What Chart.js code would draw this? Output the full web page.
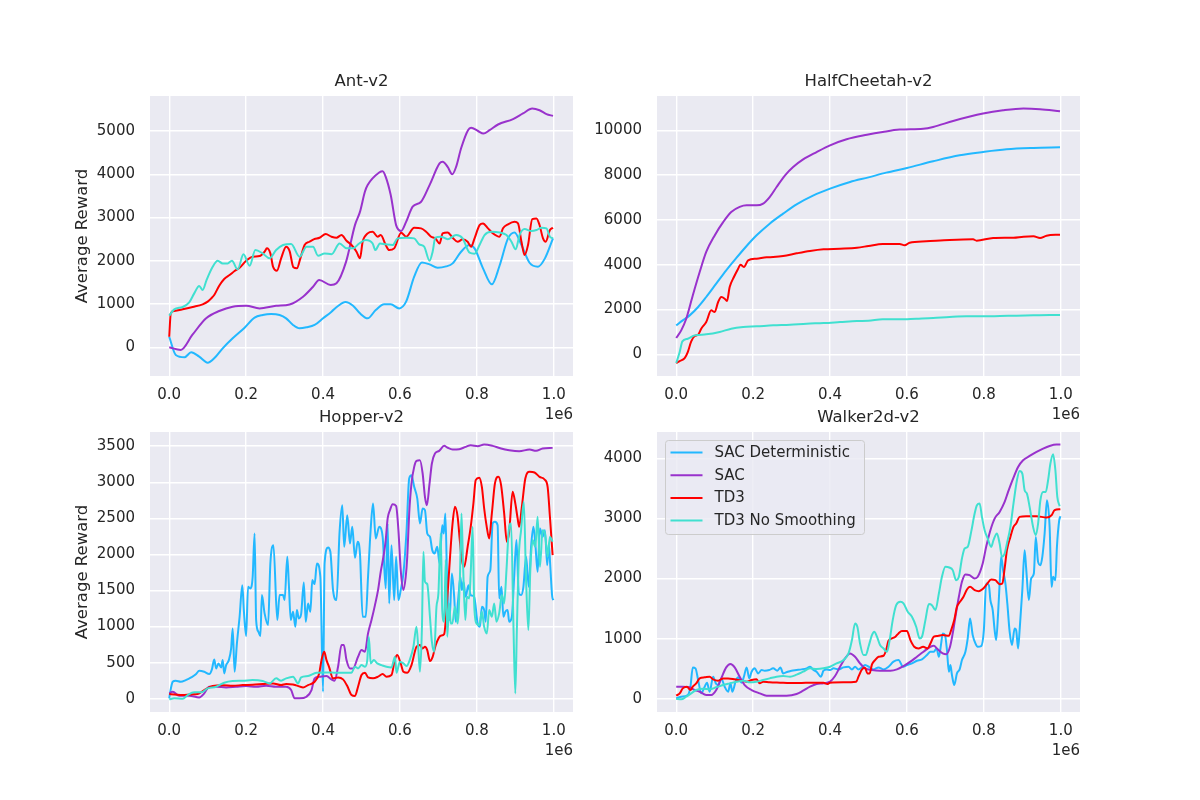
<!DOCTYPE html>
<html>
<head>
<meta charset="utf-8">
<title>TD3 / SAC benchmark</title>
<script src="https://cdn.jsdelivr.net/npm/chart.js@4.4.1/dist/chart.umd.min.js"></script>
<style>
  body { margin: 0; background: #ffffff; }
  #page { position: relative; width: 1200px; height: 800px; overflow: hidden; }
  #page canvas { position: absolute; }
</style>
</head>
<body>
<div id="page">
  <canvas id="ant" width="563" height="380" style="left:40px;top:51px"></canvas>
  <canvas id="cheetah" width="563" height="380" style="left:547px;top:51px"></canvas>
  <canvas id="hopper" width="563" height="380" style="left:40px;top:387px"></canvas>
  <canvas id="walker" width="563" height="380" style="left:547px;top:387px"></canvas>
</div>
<script>
// timesteps are in millions (axis offset label "1e6")
const seriesNames = ['SAC Deterministic', 'SAC', 'TD3', 'TD3 No Smoothing'];
const seriesColors = ['#22b8ff', '#9932cc', '#ff0000', '#40e0d0'];
const xTicks = [0, 0.2, 0.4, 0.6, 0.8, 1.0];

// ---- Ant-v2
const antYTicks = [0, 1000, 2000, 3000, 4000, 5000];
const antSacDetX = [0, 0.017, 0.04, 0.057, 0.078, 0.1, 0.117, 0.139, 0.165, 0.196, 0.222, 0.243, 0.265, 0.287, 0.304, 0.322, 0.339, 0.357, 0.378, 0.4, 0.422, 0.439, 0.458, 0.478, 0.496, 0.516, 0.537, 0.559, 0.576, 0.598, 0.616, 0.637, 0.657, 0.677, 0.698, 0.72, 0.737, 0.759, 0.781, 0.794, 0.816, 0.839, 0.859, 0.881, 0.898, 0.916, 0.937, 0.959, 0.977, 0.998];
const antSacDetY = [245, -177, -230, -115, -215, -354, -254, -23, 208, 454, 685, 747, 770, 747, 670, 516, 439, 462, 516, 670, 824, 955, 1047, 962, 785, 670, 862, 993, 993, 900, 1055, 1632, 1963, 1917, 1840, 1870, 1940, 2210, 2364, 2287, 1825, 1455, 1886, 2518, 2656, 2364, 1955, 1863, 2056, 2518];
const antSacX = [0, 0.03, 0.06, 0.096, 0.13, 0.165, 0.2, 0.235, 0.278, 0.313, 0.348, 0.374, 0.39, 0.42, 0.435, 0.46, 0.483, 0.496, 0.509, 0.516, 0.546, 0.555, 0.563, 0.576, 0.59, 0.603, 0.616, 0.633, 0.655, 0.677, 0.703, 0.711, 0.724, 0.736, 0.746, 0.759, 0.777, 0.785, 0.803, 0.817, 0.833, 0.855, 0.894, 0.92, 0.944, 0.963, 0.981, 0.998];
const antSacY = [0, -60, 285, 670, 840, 940, 960, 900, 960, 990, 1170, 1400, 1555, 1440, 1480, 1980, 2825, 3130, 3600, 3750, 4040, 4070, 3940, 3520, 2825, 2690, 2900, 3250, 3365, 3750, 4250, 4290, 4170, 4000, 4170, 4600, 5020, 5075, 5000, 4940, 5020, 5150, 5275, 5405, 5520, 5480, 5390, 5350];
const antTd3X = [0, 0.004, 0.013, 0.035, 0.061, 0.087, 0.1, 0.109, 0.117, 0.13, 0.143, 0.157, 0.17, 0.183, 0.2, 0.217, 0.235, 0.248, 0.254, 0.263, 0.27, 0.28, 0.291, 0.304, 0.313, 0.323, 0.332, 0.341, 0.352, 0.365, 0.377, 0.391, 0.407, 0.422, 0.435, 0.448, 0.461, 0.474, 0.487, 0.496, 0.503, 0.516, 0.529, 0.542, 0.55, 0.563, 0.572, 0.585, 0.603, 0.616, 0.637, 0.655, 0.668, 0.681, 0.692, 0.703, 0.711, 0.724, 0.737, 0.75, 0.763, 0.776, 0.785, 0.794, 0.807, 0.816, 0.829, 0.842, 0.859, 0.868, 0.881, 0.898, 0.907, 0.916, 0.924, 0.933, 0.944, 0.955, 0.963, 0.972, 0.979, 0.99, 0.998];
const antTd3Y = [245, 785, 840, 878, 932, 993, 1055, 1130, 1210, 1425, 1580, 1670, 1763, 1840, 2000, 2094, 2110, 2210, 2287, 2171, 1863, 1770, 2056, 2325, 2225, 1848, 1825, 2056, 2364, 2440, 2500, 2533, 2618, 2556, 2533, 2595, 2464, 2364, 2210, 2056, 2440, 2633, 2672, 2556, 2595, 2364, 2248, 2287, 2649, 2556, 2764, 2750, 2672, 2556, 2518, 2400, 2633, 2656, 2533, 2440, 2495, 2440, 2325, 2518, 2826, 2864, 2750, 2633, 2556, 2750, 2842, 2900, 2864, 2440, 2133, 2364, 2965, 2980, 2826, 2518, 2440, 2710, 2764];
const antTd3nsX = [0, 0.013, 0.035, 0.052, 0.065, 0.078, 0.087, 0.097, 0.113, 0.126, 0.139, 0.152, 0.163, 0.178, 0.193, 0.209, 0.224, 0.243, 0.261, 0.278, 0.296, 0.317, 0.339, 0.357, 0.374, 0.387, 0.404, 0.422, 0.443, 0.461, 0.478, 0.494, 0.511, 0.529, 0.536, 0.548, 0.563, 0.581, 0.594, 0.616, 0.637, 0.65, 0.663, 0.677, 0.685, 0.692, 0.707, 0.724, 0.746, 0.763, 0.781, 0.794, 0.807, 0.82, 0.837, 0.859, 0.877, 0.89, 0.901, 0.911, 0.924, 0.942, 0.955, 0.968, 0.981, 0.99, 0.998];
const antTd3nsY = [731, 878, 932, 1040, 1247, 1417, 1324, 1555, 1863, 2000, 1940, 1940, 2000, 1800, 2150, 1886, 2248, 2171, 2056, 2248, 2364, 2387, 2094, 2325, 2325, 2117, 2171, 2150, 2400, 2287, 2287, 2400, 2480, 2400, 2248, 2400, 2380, 2364, 2518, 2533, 2518, 2380, 2325, 2000, 2210, 2533, 2556, 2500, 2595, 2518, 2187, 2164, 2364, 2595, 2672, 2656, 2595, 2440, 2264, 2595, 2733, 2687, 2710, 2764, 2750, 2556, 2518];

// ---- HalfCheetah-v2
const cheetahYTicks = [0, 2000, 4000, 6000, 8000, 10000];
const cheetahSacDetX = [0, 0.017, 0.035, 0.057, 0.078, 0.104, 0.13, 0.157, 0.183, 0.209, 0.243, 0.278, 0.313, 0.357, 0.4, 0.452, 0.5, 0.546, 0.6, 0.668, 0.737, 0.798, 0.859, 0.929, 0.998];
const cheetahSacDetY = [1295, 1518, 1740, 2113, 2560, 3155, 3750, 4315, 4836, 5312, 5833, 6280, 6696, 7098, 7395, 7693, 7900, 8110, 8318, 8616, 8883, 9032, 9151, 9211, 9240];
const cheetahSacX = [0, 0.013, 0.026, 0.043, 0.061, 0.078, 0.1, 0.122, 0.143, 0.165, 0.183, 0.209, 0.226, 0.243, 0.261, 0.283, 0.304, 0.33, 0.365, 0.4, 0.443, 0.496, 0.537, 0.581, 0.642, 0.668, 0.72, 0.798, 0.85, 0.903, 0.946, 0.998];
const cheetahSacY = [730, 1070, 1590, 2630, 3675, 4570, 5310, 5900, 6350, 6580, 6650, 6650, 6725, 7020, 7470, 7990, 8360, 8700, 9030, 9330, 9600, 9800, 9925, 10030, 10070, 10150, 10415, 10745, 10890, 10970, 10940, 10850];
const cheetahTd3X = [0, 0.009, 0.022, 0.03, 0.039, 0.048, 0.057, 0.065, 0.078, 0.091, 0.1, 0.109, 0.117, 0.126, 0.132, 0.139, 0.15, 0.161, 0.167, 0.176, 0.187, 0.209, 0.235, 0.252, 0.278, 0.313, 0.348, 0.383, 0.426, 0.47, 0.5, 0.537, 0.581, 0.594, 0.607, 0.65, 0.711, 0.772, 0.781, 0.824, 0.877, 0.903, 0.929, 0.946, 0.963, 0.998];
const cheetahTd3Y = [-387, -298, -164, 104, 580, 818, 878, 1146, 1443, 1964, 1890, 2336, 2560, 2485, 2380, 3006, 3452, 3824, 4003, 3900, 4196, 4270, 4330, 4345, 4390, 4508, 4613, 4687, 4717, 4761, 4836, 4925, 4925, 4866, 4985, 5044, 5104, 5134, 5074, 5193, 5208, 5253, 5268, 5193, 5297, 5342];
const cheetahTd3nsX = [0, 0.009, 0.016, 0.03, 0.048, 0.078, 0.113, 0.143, 0.174, 0.209, 0.252, 0.296, 0.339, 0.383, 0.426, 0.47, 0.5, 0.537, 0.581, 0.624, 0.668, 0.711, 0.755, 0.798, 0.842, 0.885, 0.929, 0.972, 0.998];
const cheetahTd3nsY = [-387, 104, 580, 700, 848, 893, 997, 1146, 1220, 1250, 1295, 1324, 1369, 1399, 1443, 1488, 1500, 1562, 1562, 1592, 1622, 1667, 1696, 1696, 1711, 1726, 1741, 1756, 1756];

// ---- Hopper-v2
const hopperYTicks = [0, 500, 1000, 1500, 2000, 2500, 3000, 3500];
const hopperSacDetX = [0, 0.002, 0.009, 0.017, 0.03, 0.043, 0.057, 0.07, 0.078, 0.091, 0.104, 0.111, 0.117, 0.122, 0.128, 0.135, 0.139, 0.143, 0.148, 0.155, 0.161, 0.165, 0.17, 0.176, 0.183, 0.19, 0.194, 0.2, 0.205, 0.211, 0.217, 0.222, 0.226, 0.232, 0.237, 0.241, 0.248, 0.257, 0.263, 0.271, 0.281, 0.287, 0.296, 0.3, 0.307, 0.311, 0.316, 0.322, 0.328, 0.332, 0.337, 0.343, 0.35, 0.355, 0.361, 0.367, 0.372, 0.378, 0.384, 0.393, 0.4, 0.404, 0.413, 0.419, 0.426, 0.435, 0.443, 0.45, 0.455, 0.463, 0.47, 0.476, 0.483, 0.49, 0.496, 0.503, 0.511, 0.517, 0.524, 0.53, 0.537, 0.546, 0.555, 0.563, 0.568, 0.572, 0.578, 0.585, 0.59, 0.596, 0.602, 0.609, 0.617, 0.624, 0.63, 0.637, 0.645, 0.652, 0.659, 0.665, 0.671, 0.678, 0.684, 0.69, 0.697, 0.703, 0.71, 0.714, 0.718, 0.723, 0.729, 0.735, 0.741, 0.745, 0.752, 0.757, 0.761, 0.765, 0.771, 0.778, 0.784, 0.793, 0.802, 0.808, 0.813, 0.819, 0.823, 0.828, 0.835, 0.841, 0.847, 0.854, 0.858, 0.864, 0.869, 0.874, 0.88, 0.884, 0.891, 0.897, 0.903, 0.909, 0.915, 0.921, 0.928, 0.935, 0.941, 0.947, 0.952, 0.958, 0.964, 0.971, 0.977, 0.983, 0.987, 0.991, 0.996, 0.999];
const hopperSacDetY = [5, 74, 235, 250, 235, 258, 295, 342, 388, 374, 342, 406, 545, 420, 489, 434, 535, 351, 466, 535, 697, 974, 374, 766, 1136, 1574, 1228, 868, 1551, 1528, 1690, 2290, 1090, 928, 868, 1436, 1182, 1020, 1874, 2128, 1090, 1436, 1436, 1367, 1967, 1597, 1090, 1205, 997, 1228, 1113, 1173, 1611, 1067, 1320, 1205, 1644, 1588, 1874, 1690, 97, 1874, 2096, 2036, 1505, 1367, 2313, 2682, 2105, 2543, 2151, 2382, 1953, 2175, 2013, 1136, 1136, 1690, 2359, 2705, 2221, 2382, 2244, 1528, 2429, 1320, 2128, 1367, 1967, 1367, 1505, 1736, 2313, 3052, 3098, 2936, 2775, 2429, 2636, 2613, 2290, 2244, 2059, 2013, 2105, 1874, 2405, 2290, 2567, 1551, 1090, 1736, 1413, 1067, 1413, 1690, 1505, 1621, 1413, 1574, 1436, 1413, 1043, 997, 1274, 1228, 1067, 1690, 1782, 2429, 2452, 2405, 1390, 1551, 1136, 1205, 1228, 1067, 1136, 1690, 2198, 1459, 1436, 1551, 1967, 1551, 2105, 2382, 2151, 1759, 2359, 2244, 2336, 1851, 2151, 1828, 1413, 1367];
const hopperSacX = [0, 0.009, 0.026, 0.052, 0.078, 0.091, 0.104, 0.122, 0.148, 0.174, 0.2, 0.226, 0.252, 0.278, 0.304, 0.317, 0.326, 0.339, 0.357, 0.37, 0.378, 0.391, 0.409, 0.422, 0.43, 0.439, 0.448, 0.454, 0.461, 0.47, 0.478, 0.491, 0.5, 0.509, 0.517, 0.526, 0.535, 0.543, 0.55, 0.557, 0.563, 0.568, 0.574, 0.581, 0.59, 0.596, 0.602, 0.609, 0.615, 0.619, 0.624, 0.63, 0.637, 0.643, 0.652, 0.659, 0.665, 0.67, 0.677, 0.683, 0.691, 0.702, 0.715, 0.723, 0.737, 0.754, 0.771, 0.784, 0.802, 0.819, 0.841, 0.863, 0.884, 0.91, 0.937, 0.954, 0.971, 0.997];
const hopperSacY = [74, 97, 42, 42, 18, 74, 166, 166, 157, 166, 175, 166, 180, 166, 166, 120, 5, 5, 28, 120, 282, 305, 314, 268, 249, 443, 743, 743, 535, 420, 420, 582, 674, 651, 905, 1090, 1297, 1505, 1759, 1967, 2198, 2498, 2613, 2696, 2669, 2336, 1782, 1505, 1690, 1967, 2567, 2983, 3213, 3297, 3306, 3121, 2798, 2682, 2983, 3260, 3398, 3435, 3504, 3481, 3453, 3458, 3490, 3513, 3500, 3523, 3504, 3467, 3444, 3430, 3453, 3435, 3467, 3476];
const hopperTd3X = [0, 0.013, 0.035, 0.057, 0.074, 0.091, 0.113, 0.139, 0.165, 0.191, 0.217, 0.243, 0.27, 0.291, 0.304, 0.322, 0.33, 0.348, 0.361, 0.378, 0.39, 0.396, 0.403, 0.409, 0.416, 0.426, 0.439, 0.452, 0.463, 0.474, 0.483, 0.491, 0.5, 0.509, 0.517, 0.53, 0.543, 0.555, 0.565, 0.578, 0.587, 0.593, 0.602, 0.609, 0.619, 0.63, 0.643, 0.652, 0.659, 0.665, 0.671, 0.678, 0.685, 0.693, 0.706, 0.715, 0.723, 0.73, 0.736, 0.743, 0.75, 0.756, 0.761, 0.767, 0.776, 0.784, 0.791, 0.797, 0.806, 0.813, 0.819, 0.825, 0.832, 0.839, 0.847, 0.856, 0.863, 0.871, 0.878, 0.884, 0.893, 0.9, 0.906, 0.91, 0.917, 0.926, 0.937, 0.95, 0.963, 0.976, 0.984, 0.99, 0.997];
const hopperTd3Y = [65, 60, 51, 60, 65, 120, 175, 185, 180, 189, 194, 203, 212, 189, 203, 198, 185, 157, 189, 235, 351, 535, 651, 535, 434, 282, 295, 268, 175, 51, 37, 166, 328, 360, 295, 282, 305, 342, 305, 328, 545, 605, 489, 374, 360, 466, 720, 743, 697, 720, 674, 522, 580, 743, 873, 896, 1390, 1944, 2382, 2659, 2521, 2175, 1921, 1828, 2105, 2382, 2705, 3029, 3061, 2936, 2636, 2405, 2221, 2567, 2983, 3075, 2959, 2567, 2175, 2313, 2867, 2705, 2498, 2382, 2659, 3052, 3144, 3135, 3075, 3038, 2936, 2521, 1990];
const hopperTd3nsX = [0, 0.013, 0.035, 0.048, 0.065, 0.083, 0.1, 0.122, 0.143, 0.165, 0.191, 0.217, 0.243, 0.261, 0.278, 0.291, 0.304, 0.322, 0.335, 0.343, 0.361, 0.383, 0.409, 0.435, 0.456, 0.474, 0.483, 0.491, 0.5, 0.509, 0.515, 0.519, 0.524, 0.532, 0.541, 0.552, 0.565, 0.578, 0.587, 0.591, 0.6, 0.609, 0.617, 0.626, 0.635, 0.643, 0.648, 0.652, 0.657, 0.661, 0.665, 0.671, 0.678, 0.683, 0.689, 0.695, 0.7, 0.706, 0.71, 0.715, 0.719, 0.723, 0.728, 0.732, 0.736, 0.743, 0.75, 0.756, 0.76, 0.764, 0.77, 0.774, 0.78, 0.784, 0.789, 0.793, 0.799, 0.806, 0.813, 0.819, 0.826, 0.832, 0.839, 0.845, 0.851, 0.858, 0.865, 0.871, 0.877, 0.883, 0.889, 0.895, 0.9, 0.904, 0.909, 0.915, 0.922, 0.928, 0.934, 0.939, 0.945, 0.952, 0.958, 0.964, 0.971, 0.977, 0.984, 0.99, 0.997];
const hopperTd3nsY = [-9, 5, 0, 51, 88, 88, 143, 166, 222, 245, 249, 258, 245, 212, 282, 249, 282, 305, 212, 295, 314, 360, 365, 360, 360, 360, 443, 420, 466, 443, 535, 859, 489, 535, 489, 466, 443, 434, 582, 360, 512, 489, 452, 545, 720, 997, 674, 374, 951, 2036, 1621, 1588, 1136, 790, 651, 1274, 1459, 2290, 1228, 1067, 1921, 859, 1320, 1043, 1043, 1274, 1043, 1690, 2567, 1874, 1090, 1413, 1390, 1736, 2382, 1320, 1043, 1020, 1205, 997, 905, 1228, 1136, 1320, 1067, 1182, 1436, 1320, 1782, 2336, 2429, 1043, 74, 951, 1967, 2336, 2729, 1644, 951, 1782, 2198, 2105, 2521, 1828, 2336, 2290, 1967, 2244, 2175];

// ---- Walker2d-v2
const walkerYTicks = [0, 1000, 2000, 3000, 4000];
const walkerSacDetX = [0, 0.013, 0.03, 0.037, 0.043, 0.05, 0.057, 0.065, 0.074, 0.08, 0.087, 0.096, 0.103, 0.109, 0.117, 0.126, 0.135, 0.141, 0.146, 0.155, 0.161, 0.17, 0.176, 0.183, 0.19, 0.196, 0.204, 0.213, 0.222, 0.23, 0.242, 0.252, 0.263, 0.271, 0.278, 0.29, 0.3, 0.313, 0.326, 0.339, 0.348, 0.357, 0.365, 0.376, 0.383, 0.391, 0.4, 0.409, 0.422, 0.435, 0.448, 0.457, 0.465, 0.474, 0.483, 0.491, 0.503, 0.513, 0.526, 0.539, 0.552, 0.565, 0.578, 0.59, 0.6, 0.613, 0.626, 0.639, 0.652, 0.661, 0.67, 0.677, 0.683, 0.689, 0.693, 0.699, 0.704, 0.709, 0.713, 0.717, 0.723, 0.73, 0.737, 0.743, 0.752, 0.758, 0.764, 0.771, 0.778, 0.784, 0.793, 0.8, 0.806, 0.813, 0.817, 0.823, 0.828, 0.832, 0.837, 0.841, 0.845, 0.85, 0.856, 0.861, 0.867, 0.873, 0.88, 0.884, 0.889, 0.893, 0.9, 0.906, 0.91, 0.917, 0.923, 0.93, 0.935, 0.941, 0.947, 0.952, 0.958, 0.964, 0.971, 0.976, 0.98, 0.986, 0.99, 0.996, 0.999];
const walkerSacDetY = [5, 33, 61, 200, 521, 505, 311, 89, 200, 266, 116, 366, 255, 227, 338, 200, 116, 255, 116, 300, 355, 266, 366, 521, 338, 449, 505, 421, 477, 466, 477, 505, 466, 521, 421, 449, 466, 477, 488, 505, 532, 477, 449, 366, 466, 488, 477, 505, 488, 521, 532, 488, 532, 488, 521, 560, 521, 488, 521, 488, 532, 616, 643, 532, 560, 588, 632, 654, 727, 782, 782, 837, 699, 920, 1087, 1059, 810, 449, 560, 394, 227, 421, 488, 643, 782, 1004, 1337, 1059, 920, 865, 876, 1142, 1919, 1891, 1642, 1475, 1142, 976, 1420, 1919, 2363, 2141, 1919, 1586, 1115, 893, 1170, 1142, 837, 1142, 1808, 2474, 2169, 1642, 2002, 2085, 2695, 2279, 2224, 2363, 2751, 3305, 2862, 1863, 2030, 1974, 2529, 2973, 3039];
const walkerSacX = [0, 0.017, 0.035, 0.048, 0.061, 0.078, 0.091, 0.104, 0.117, 0.13, 0.141, 0.152, 0.165, 0.178, 0.196, 0.217, 0.235, 0.261, 0.287, 0.313, 0.33, 0.348, 0.365, 0.383, 0.4, 0.413, 0.426, 0.439, 0.452, 0.465, 0.478, 0.491, 0.509, 0.53, 0.557, 0.574, 0.591, 0.609, 0.626, 0.643, 0.661, 0.67, 0.678, 0.693, 0.702, 0.712, 0.719, 0.726, 0.735, 0.743, 0.752, 0.763, 0.776, 0.784, 0.797, 0.806, 0.817, 0.828, 0.841, 0.854, 0.863, 0.876, 0.889, 0.902, 0.919, 0.937, 0.954, 0.971, 0.989, 0.999];
const walkerSacY = [200, 200, 189, 144, 116, 61, 61, 144, 338, 521, 577, 521, 366, 227, 144, 89, 50, 50, 50, 78, 133, 200, 244, 255, 283, 377, 532, 671, 754, 699, 588, 505, 477, 466, 466, 488, 543, 616, 699, 782, 865, 882, 837, 754, 738, 865, 1087, 1364, 1697, 1946, 2069, 2058, 2002, 2030, 2252, 2529, 2806, 3000, 3111, 3278, 3444, 3666, 3860, 3971, 4043, 4110, 4165, 4209, 4232, 4232];
const walkerTd3X = [0, 0.009, 0.017, 0.028, 0.037, 0.043, 0.052, 0.061, 0.074, 0.087, 0.096, 0.109, 0.122, 0.135, 0.152, 0.17, 0.183, 0.196, 0.209, 0.217, 0.226, 0.243, 0.27, 0.296, 0.326, 0.348, 0.383, 0.393, 0.4, 0.435, 0.468, 0.474, 0.483, 0.491, 0.497, 0.503, 0.509, 0.517, 0.526, 0.539, 0.546, 0.552, 0.561, 0.57, 0.578, 0.587, 0.6, 0.609, 0.619, 0.63, 0.642, 0.654, 0.661, 0.67, 0.68, 0.693, 0.709, 0.715, 0.723, 0.73, 0.738, 0.747, 0.756, 0.764, 0.776, 0.787, 0.797, 0.808, 0.819, 0.83, 0.841, 0.848, 0.854, 0.86, 0.869, 0.877, 0.884, 0.893, 0.91, 0.937, 0.963, 0.976, 0.984, 0.999];
const walkerTd3Y = [50, 89, 172, 200, 144, 200, 255, 338, 355, 366, 322, 300, 338, 338, 322, 300, 283, 311, 322, 255, 283, 272, 266, 261, 261, 266, 266, 244, 266, 272, 283, 366, 488, 516, 421, 421, 571, 643, 699, 715, 810, 965, 1004, 1032, 1087, 1126, 1126, 976, 865, 837, 865, 837, 920, 1032, 1043, 1059, 1048, 1142, 1309, 1531, 1614, 1697, 1819, 1863, 1808, 1791, 1825, 1908, 1985, 1974, 1908, 1919, 2169, 2474, 2695, 2862, 2917, 3028, 3039, 3039, 3017, 3056, 3139, 3156];
const walkerTd3nsX = [0, 0.013, 0.026, 0.039, 0.052, 0.07, 0.087, 0.104, 0.122, 0.139, 0.157, 0.174, 0.191, 0.209, 0.226, 0.243, 0.261, 0.278, 0.296, 0.313, 0.33, 0.348, 0.365, 0.383, 0.4, 0.417, 0.435, 0.448, 0.457, 0.465, 0.471, 0.478, 0.487, 0.493, 0.5, 0.509, 0.515, 0.522, 0.53, 0.539, 0.548, 0.555, 0.563, 0.572, 0.583, 0.591, 0.602, 0.613, 0.624, 0.633, 0.639, 0.648, 0.657, 0.665, 0.674, 0.683, 0.691, 0.7, 0.71, 0.719, 0.728, 0.735, 0.743, 0.75, 0.758, 0.767, 0.776, 0.782, 0.789, 0.795, 0.802, 0.81, 0.819, 0.825, 0.834, 0.841, 0.847, 0.854, 0.86, 0.869, 0.877, 0.886, 0.893, 0.9, 0.906, 0.912, 0.919, 0.928, 0.935, 0.941, 0.947, 0.954, 0.961, 0.967, 0.973, 0.98, 0.986, 0.991, 0.997];
const walkerTd3nsY = [-5, -11, 33, 89, 144, 166, 155, 189, 227, 255, 283, 300, 272, 283, 311, 338, 366, 377, 366, 400, 449, 505, 494, 505, 532, 588, 643, 754, 976, 1253, 1198, 920, 727, 727, 865, 1059, 1115, 1032, 893, 837, 782, 976, 1309, 1558, 1614, 1586, 1448, 1364, 1198, 1004, 1032, 1309, 1575, 1558, 1475, 1752, 2030, 2196, 2185, 2141, 1974, 2030, 2335, 2501, 2529, 2778, 3083, 3222, 3250, 3028, 2806, 2668, 2529, 2640, 2751, 2584, 2363, 2418, 2584, 2862, 3250, 3638, 3793, 3749, 3472, 3416, 3194, 2862, 2723, 2917, 3305, 3444, 3444, 3638, 3915, 4071, 3805, 3361, 3206];

function pts(xs, ys) {
  return xs.map((x, i) => ({ x: x, y: ys[i] }));
}

const panels = [
  { id: 'ant', title: 'Ant-v2', yTicks: antYTicks, yMin: -663, yMax: 5809, yLabel: true, legend: false,
    series: [pts(antSacDetX, antSacDetY), pts(antSacX, antSacY), pts(antTd3X, antTd3Y), pts(antTd3nsX, antTd3nsY)] },
  { id: 'cheetah', title: 'HalfCheetah-v2', yTicks: cheetahYTicks, yMin: -965, yMax: 11530, yLabel: false, legend: false,
    series: [pts(cheetahSacDetX, cheetahSacDetY), pts(cheetahSacX, cheetahSacY), pts(cheetahTd3X, cheetahTd3Y), pts(cheetahTd3nsX, cheetahTd3nsY)] },
  { id: 'hopper', title: 'Hopper-v2', yTicks: hopperYTicks, yMin: -184, yMax: 3696, yLabel: true, legend: false,
    series: [pts(hopperSacDetX, hopperSacDetY), pts(hopperSacX, hopperSacY), pts(hopperTd3X, hopperTd3Y), pts(hopperTd3nsX, hopperTd3nsY)] },
  { id: 'walker', title: 'Walker2d-v2', yTicks: walkerYTicks, yMin: -222, yMax: 4442, yLabel: false, legend: true,
    series: [pts(walkerSacDetX, walkerSacDetY), pts(walkerSacX, walkerSacY), pts(walkerTd3X, walkerTd3Y), pts(walkerTd3nsX, walkerTd3nsY)] }
];

const FONT = "'DejaVu Sans', sans-serif";
const TEXT = '#262626';

// background, titles, offset text, y label and the legend box
const decor = {
  id: 'decor',
  beforeDraw(chart, args, opts) {
    const a = chart.chartArea, ctx = chart.ctx;
    ctx.save();
    ctx.fillStyle = '#eaeaf2';
    ctx.fillRect(a.left, a.top, a.right - a.left, a.bottom - a.top);
    ctx.restore();
  },
  afterDraw(chart, args, opts) {
    const a = chart.chartArea, ctx = chart.ctx;
    ctx.save();
    ctx.fillStyle = TEXT;
    ctx.font = '16.5px ' + FONT;
    ctx.textAlign = 'center';
    ctx.textBaseline = 'middle';
    ctx.fillText(opts.title, (a.left + a.right) / 2, a.top - 14);

    ctx.font = '15px ' + FONT;
    ctx.textAlign = 'right';
    ctx.fillText('1e6', a.right, a.bottom + 39);

    if (opts.yLabel) {
      ctx.save();
      ctx.translate(a.left - 67, (a.top + a.bottom) / 2);
      ctx.rotate(-Math.PI / 2);
      ctx.font = '16.5px ' + FONT;
      ctx.textAlign = 'center';
      ctx.fillText('Average Reward', 0, 0);
      ctx.restore();
    }

    if (opts.legend) {
      const bx = a.left + 8.5, by = a.top + 8.5, bw = 199, bh = 94;
      ctx.beginPath();
      if (ctx.roundRect) ctx.roundRect(bx, by, bw, bh, 3); else ctx.rect(bx, by, bw, bh);
      ctx.fillStyle = 'rgba(234,234,242,0.8)';
      ctx.fill();
      ctx.strokeStyle = '#cccccc';
      ctx.lineWidth = 1;
      ctx.stroke();
      ctx.font = '15px ' + FONT;
      ctx.textAlign = 'left';
      ctx.textBaseline = 'middle';
      chart.data.datasets.forEach((ds, i) => {
        const y = by + 12 + i * 22.7;
        ctx.beginPath();
        ctx.moveTo(bx + 5, y);
        ctx.lineTo(bx + 37, y);
        ctx.strokeStyle = ds.borderColor;
        ctx.lineWidth = 2;
        ctx.stroke();
        ctx.fillStyle = TEXT;
        ctx.fillText(ds.label, bx + 49, y + 0.5);
      });
    }
    ctx.restore();
  }
};

panels.forEach(p => {
  const datasets = p.series.map((data, i) => ({
    label: seriesNames[i],
    data: data,
    borderColor: seriesColors[i],
    backgroundColor: seriesColors[i],
    borderWidth: 2,
    pointRadius: 0,
    fill: false,
    cubicInterpolationMode: 'monotone',
    order: p.series.length - 1 - i
  }));

  new Chart(document.getElementById(p.id), {
    type: 'line',
    data: { datasets: datasets },
    plugins: [decor],
    options: {
      responsive: false,
      animation: false,
      devicePixelRatio: 1,
      layout: { padding: { left: 0, top: 45, right: 30, bottom: 0 } },
      plugins: {
        legend: { display: false },
        tooltip: { enabled: false },
        decor: { title: p.title, yLabel: p.yLabel, legend: p.legend }
      },
      scales: {
        x: {
          type: 'linear',
          min: -0.05,
          max: 1.05,
          afterBuildTicks: s => { s.ticks = xTicks.map(v => ({ value: v })); },
          afterFit: s => { s.height = 55; },
          ticks: { color: TEXT, font: { family: FONT, size: 15 }, padding: 10, maxRotation: 0,
                   callback: v => v.toFixed(1) },
          grid: { color: '#ffffff', lineWidth: 1.4, drawTicks: false },
          border: { display: false }
        },
        y: {
          type: 'linear',
          min: p.yMin,
          max: p.yMax,
          afterBuildTicks: s => { s.ticks = p.yTicks.map(v => ({ value: v })); },
          afterFit: s => { s.width = 110; },
          ticks: { color: TEXT, font: { family: FONT, size: 15 }, padding: 15,
                   callback: v => String(v) },
          grid: { color: '#ffffff', lineWidth: 1.4, drawTicks: false },
          border: { display: false }
        }
      }
    }
  });
});
</script>
</body>
</html>
